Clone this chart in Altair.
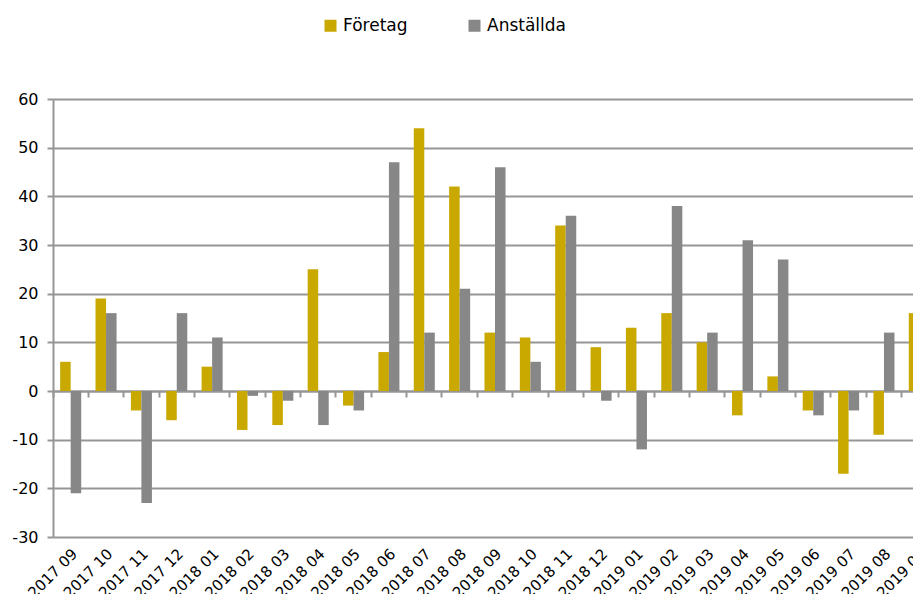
import altair as alt
import pandas as pd

months = ["2017 09", "2017 10", "2017 11", "2017 12", "2018 01", "2018 02", "2018 03",
          "2018 04", "2018 05", "2018 06", "2018 07", "2018 08", "2018 09", "2018 10",
          "2018 11", "2018 12", "2019 01", "2019 02", "2019 03", "2019 04", "2019 05",
          "2019 06", "2019 07", "2019 08", "2019 09"]
foretag = [6, 19, -4, -6, 5, -8, -7, 25, -3, 8, 54, 42, 12, 11, 34, 9, 13, 16, 10, -5, 3, -4, -17, -9, 16]
anstallda = [-21, 16, -23, 16, 11, -1, -2, -7, -4, 47, 12, 21, 46, 6, 36, -2, -12, 38, 12, 31, 27, -5, -4, 12, 1]
series = ["Företag", "Anställda"]
colors = ["#C9A800", "#878787"]
y_ticks = [-30, -20, -10, 0, 10, 20, 30, 40, 50, 60]

rows = []
for m, f, a in zip(months, foretag, anstallda):
    rows.append({"month": m, "serie": series[0], "value": f})
    rows.append({"month": m, "serie": series[1], "value": a})
df = pd.DataFrame(rows)

FONT = "DejaVu Sans"
GRAY = "#969696"

xscale = alt.Scale(range=[0, 884], paddingInner=0, paddingOuter=0)
yscale = alt.Scale(domain=[-30, 60], nice=False)

bars = alt.Chart(df).mark_bar(clip=True).encode(
    x=alt.X("month:N", sort=months, scale=xscale,
            axis=alt.Axis(title=None, labelAngle=-45, labelAlign="right", labelBaseline="middle",
                          labelFontSize=15, labelFont=FONT, labelColor="#000", ticks=False,
                          domain=False, grid=False, labelPadding=14, labelOffset=4, orient="bottom")),
    xOffset=alt.XOffset("serie:N", sort=series, scale=alt.Scale(paddingOuter=0.68, paddingInner=0)),
    y=alt.Y("value:Q", scale=yscale,
            axis=alt.Axis(title=None, values=y_ticks, grid=True, gridColor=GRAY, gridWidth=2,
                          labelExpr="'' + datum.value",
                          labelFontSize=16, labelFont=FONT, labelColor="#000", labelPadding=9,
                          tickSize=6, tickColor=GRAY, tickWidth=2, domainColor=GRAY, domainWidth=2)),
    color=alt.Color("serie:N", scale=alt.Scale(domain=series, range=colors),
                    legend=alt.Legend(title=None, orient="none", legendX=269, legendY=-82,
                                      direction="horizontal", symbolType="square", symbolSize=144,
                                      symbolStrokeWidth=0, labelFontSize=17, labelFont=FONT,
                                      labelColor="#000", columnPadding=58, labelOffset=4)),
)

zero_axis = alt.Chart(df).mark_point(opacity=0).encode(
    x=alt.X("month:N", sort=months, scale=xscale,
            axis=alt.Axis(title=None, labels=False, ticks=True, tickSize=6, tickWidth=2,
                          tickColor=GRAY, domain=True, domainColor=GRAY, domainWidth=2,
                          grid=False, bandPosition=0, offset=-146, orient="bottom")),
    y=alt.Y("value:Q", scale=yscale),
)

chart = alt.layer(bars, zero_axis).resolve_axis(x="independent").properties(
    width=860, height=438,
    autosize=alt.AutoSizeParams(type="none"),
    padding={"left": 45, "top": 91, "right": 0, "bottom": 57},
).configure_view(strokeWidth=0)

chart.save("out.html", embed_options={"renderer": "svg", "actions": False})
